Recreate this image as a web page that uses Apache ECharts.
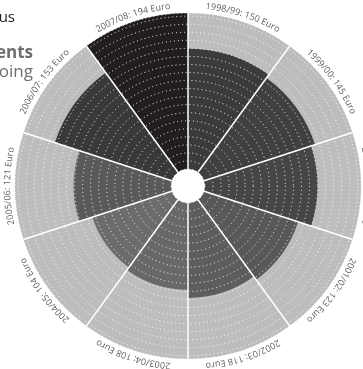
<!DOCTYPE html>
<html>
<head>
<meta charset="utf-8">
<script src="https://cdn.jsdelivr.net/npm/echarts@6/dist/echarts.min.js"></script>
<style>
    html, body { margin: 0; padding: 0; background: #fff; }
    #main { width: 363px; height: 369px; }
</style>
</head>
<body>
<div id="main"></div>
<script>
// Werte je Studienjahr (Euro)
const years = ['1998/99', '1999/00', '2000/01', '2001/02', '2002/03', '2003/04', '2004/05', '2005/06', '2006/07', '2007/08']
const values = [150, 145, 140, 123, 118, 108, 104, 121, 153, 194]
const maxValue = 194
const minValue = 104
const labelFont = '9px "Open Sans"'
const fillColors = ['#6c6c6c', '#3c3c3c', '#221e1f']

// Breite der Zeichen messen
const measureCtx = document.createElement('canvas').getContext('2d')
measureCtx.font = labelFont
function charWidth (ch) {
    return measureCtx.measureText(ch).width
}

// Beschriftung entlang des Kreisbogens
function renderArcLabel (params, api) {
    const idx = api.value(1)
    const cs = params.coordSys
    const p = api.coord([maxValue, idx])
    const mid = Math.atan2(p[0] - cs.cx, -(p[1] - cs.cy))
    const R = cs.r + 3
    const text = years[idx] + ': ' + values[idx] + ' Euro'
    const widths = text.split('').map(charWidth)
    const total = widths.reduce((a, b) => a + b, 0)
    let offset = -total / 2
    const children = []
    text.split('').forEach((ch, k) => {
        const phi = mid + (offset + widths[k] / 2) / R
        offset += widths[k]
        children.push({
            type: 'text',
            x: cs.cx + R * Math.sin(phi),
            y: cs.cy - R * Math.cos(phi),
            rotation: -phi,
            style: {
                text: ch,
                font: labelFont,
                fill: '#5e5e5e',
                align: 'center',
                verticalAlign: 'bottom'
            }
        })
    })
    return { type: 'group', children: children }
}

const myChart = echarts.init(document.getElementById('main'))
const option = {
    animation: false,
    polar: {
        center: [188, 186],
        radius: [17, 173]
    },
    angleAxis: {
        type: 'category',
        data: years,
        startAngle: 90,
        clockwise: true,
        z: 10,
        axisLine: { show: false },
        axisTick: { show: false },
        axisLabel: { show: false },
        splitLine: { show: true, lineStyle: { color: '#fff', width: 1.5 } }
    },
    radiusAxis: {
        type: 'value',
        min: 0,
        max: maxValue,
        interval: 10,
        z: 9,
        axisLine: { show: false },
        axisTick: { show: false },
        axisLabel: { show: false },
        splitLine: {
            show: true,
            lineStyle: { color: 'rgba(255,255,255,0.95)', width: 1, type: [1, 3] }
        }
    },
    graphic: [
        { type: 'text', x: 40, y: 5, style: { text: 'Gebühren', font: 'bold 22px "Open Sans"', fill: '#1e1e1e', align: 'right', verticalAlign: 'bottom' } },
        { type: 'text', x: 15, y: 25, style: { text: 'Campus', font: '15px "Open Sans"', fill: '#222', align: 'right', verticalAlign: 'bottom' } },
        { type: 'text', x: 33, y: 62, style: { text: 'Payments', font: 'bold 17px "Open Sans"', fill: '#6e6e6e', align: 'right', verticalAlign: 'bottom' } },
        { type: 'text', x: 33, y: 81, style: { text: 'ongoing', font: '17px "Open Sans"', fill: '#6e6e6e', align: 'right', verticalAlign: 'bottom' } }
    ],
    series: [
        {
            type: 'bar',
            coordinateSystem: 'polar',
            data: values,
            barCategoryGap: '0%',
            showBackground: true,
            backgroundStyle: { color: '#bdbdbf' },
            itemStyle: {
                // dunkler je höher der Betrag
                color: (params) => echarts.color.lerp((params.value - minValue) / (maxValue - minValue), fillColors)
            },
            z: 2
        },
        {
            type: 'custom',
            coordinateSystem: 'polar',
            clip: false,
            data: values.map((v, i) => [maxValue, i]),
            renderItem: renderArcLabel,
            z: 12
        }
    ]
}
myChart.setOption(option)
</script>
</body>
</html>
